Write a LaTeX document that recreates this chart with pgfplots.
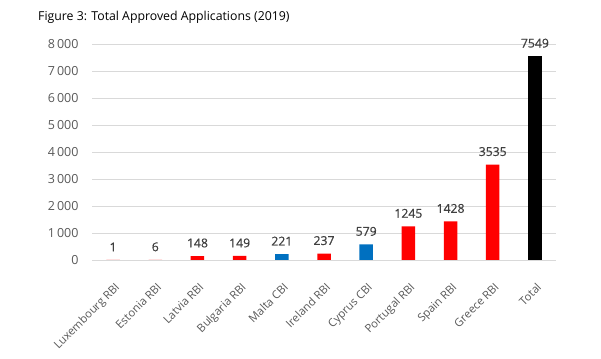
\documentclass[border=0pt]{standalone}
\usepackage{pgfplots}
\pgfplotsset{compat=1.18}
\usepackage{fontspec}
\setmainfont{Open Sans}
\newfontfamily\valfont[FakeBold=0.6]{Open Sans}
\definecolor{txtgray}{RGB}{89,89,89}
\definecolor{valgray}{RGB}{64,64,64}
\definecolor{gridgray}{RGB}{217,217,217}
\definecolor{barred}{RGB}{255,0,0}
\definecolor{barblue}{RGB}{0,112,192}
\begin{document}
\begin{tikzpicture}[x=1pt,y=1pt]
\useasboundingbox (0,0) rectangle (601,358);
\node[anchor=west, inner sep=0pt, font=\fontsize{12.3}{14}\selectfont, text=black] at (38,341) {Figure 3: Total Approved Applications (2019)};
\begin{axis}[
  at={(92pt,98pt)}, anchor=south west, scale only axis,
  width=464pt, height=216pt,
  ymin=0, ymax=8000, xmin=-0.5, xmax=10.5,
  ytick={0,1000,...,8000},
  ymajorgrids, grid style={gridgray, line width=0.8pt},
  axis line style={draw=none},
  major tick length=0pt,
  xtick={0,...,10},
  xticklabels={Luxembourg RBI, Estonia RBI, Latvia RBI, Bulgaria RBI, Malta CBI, Ireland RBI, Cyprus CBI, Portugal RBI, Spain RBI, Greece RBI, Total},
  xticklabel style={xshift=1pt, yshift=-17pt, rotate=45, anchor=north east, font=\fontsize{11.3}{13}\selectfont, text=txtgray},
  yticklabel style={font=\fontsize{12.5}{14}\selectfont, text=txtgray, xshift=-10pt},
  /pgf/number format/assume math mode=true,
  /pgf/number format/1000 sep={\,},
  scaled y ticks=false,
  ybar, bar width=13.5pt,
  nodes near coords,
  nodes near coords style={font=\valfont\fontsize{12.2}{14}\selectfont, text=valgray, yshift=5pt, /pgf/number format/1000 sep={}},
]
\addplot[fill=barred, draw=none, bar shift=0pt] coordinates {(0,1) (1,6) (2,148) (3,149) (5,237) (7,1245) (8,1428) (9,3535)};
\addplot[fill=barblue, draw=none, bar shift=0pt] coordinates {(4,221) (6,579)};
\addplot[fill=black, draw=none, bar shift=0pt] coordinates {(10,7549)};
\end{axis}
\end{tikzpicture}
\end{document}
